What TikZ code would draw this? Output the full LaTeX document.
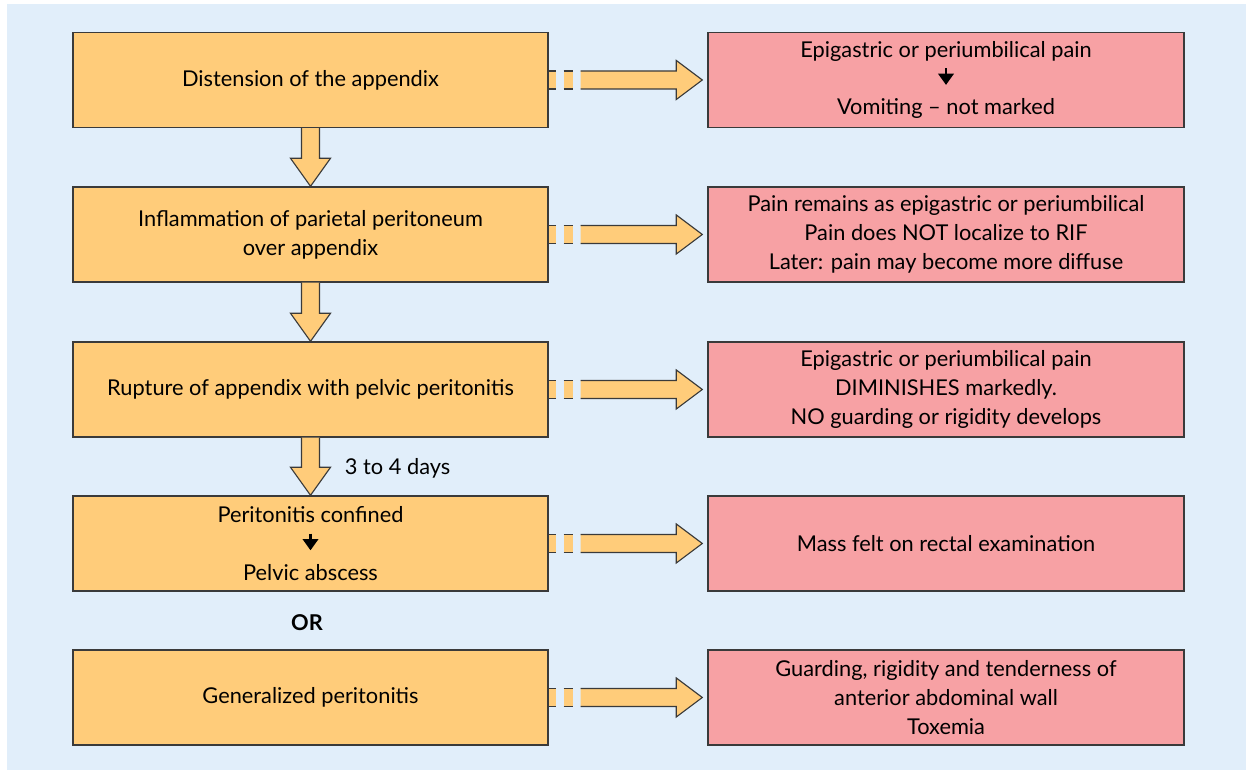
\documentclass[tikz,border=0pt]{standalone}
\usepackage{fontspec}
\setmainfont{Lato}
\usetikzlibrary{arrows.meta,calc,shadows}

\definecolor{bgblue}{RGB}{225,238,250}
\definecolor{boxorange}{RGB}{255,204,122}
\definecolor{boxpink}{RGB}{247,161,164}
\definecolor{edgegray}{RGB}{58,58,58}

\tikzset{
  stage/.style={draw=edgegray, line width=1pt, fill=boxorange,
    minimum width=11.875cm, minimum height=2.375cm, align=center,
    drop shadow={shadow xshift=0.7pt, shadow yshift=-0.7pt, fill=edgegray, opacity=0.5}},
  sign/.style={stage, fill=boxpink, minimum width=11.9cm},
  fatarrow/.style={draw=edgegray, line width=0.8pt, fill=boxorange, line join=miter},
}

% small black arrow between two lines of text
\newcommand{\smalldown}{\tikz\draw[line width=1.6pt,-{Triangle[length=8pt,width=11pt]}] (0,0) -- (0,-0.42);}

% thick arrow from the bottom of one box to the top of the next
\newcommand{\downfat}[2]{%
  \path (#1.south) coordinate (top) (#2.north) coordinate (tip);
  \filldraw[fatarrow] ($(top)+(-0.225,0)$) -- ($(tip)+(-0.225,0.7)$) -- ($(tip)+(-0.5,0.7)$)
    -- (tip) -- ($(tip)+(0.5,0.7)$) -- ($(tip)+(0.225,0.7)$) -- ($(top)+(0.225,0)$);
}

% thick arrow to the right, broken near its start
\newcommand{\rightfat}[2]{%
  \path (#1.east) coordinate (root) ($(#2.west)+(-0.125,0)$) coordinate (tip);
  \foreach \a/\b in {0/0.175, 0.375/0.6} {
    \fill[boxorange] ($(root)+(\a,-0.225)$) rectangle ($(root)+(\b,0.225)$);
    \draw[edgegray, line width=0.8pt] ($(root)+(\a,0.225)$) -- ($(root)+(\b,0.225)$)
      ($(root)+(\a,-0.225)$) -- ($(root)+(\b,-0.225)$);
  }
  \filldraw[fatarrow] ($(root)+(0.8,0.225)$) -- ($(tip)+(-0.65,0.225)$) -- ($(tip)+(-0.65,0.4875)$)
    -- (tip) -- ($(tip)+(-0.65,-0.4875)$) -- ($(tip)+(-0.65,-0.225)$) -- ($(root)+(0.8,-0.225)$);
}

\begin{document}
\begin{tikzpicture}[every node/.style={font=\fontsize{15.5}{20.6}\selectfont}]

  % background
  \useasboundingbox (0,0) rectangle (31.275,19.325);
  \fill[bgblue] (0.175,0.075) rectangle (31.15,19.225);

  % stages
  \node[stage] (appx) at (7.7625,17.325) {Distension of the appendix};
  \node[stage] (pariet) at (7.7625,13.4625) {Inflammation of parietal peritoneum\\over appendix};
  \node[stage] (rupture) at (7.7625,9.5875) {Rupture of appendix with pelvic peritonitis};
  \node[stage] (confined) at (7.7625,5.7375) {Peritonitis confined\\\smalldown\\Pelvic abscess};
  \node[stage] (general) at (7.7625,1.8875) {Generalized peritonitis};

  % signs
  \node[sign] (epi) at (23.65,17.325) {Epigastric or periumbilical pain\\\smalldown\\Vomiting -- not marked};
  \node[sign] (remains) at (23.65,13.4625) {Pain remains as epigastric or periumbilical\\Pain does NOT localize to RIF\\Later: pain may become more diffuse};
  \node[sign] (diminish) at (23.65,9.5875) {Epigastric or periumbilical pain\\DIMINISHES markedly.\\NO guarding or rigidity develops};
  \node[sign] (mass) at (23.65,5.7375) {Mass felt on rectal examination};
  \node[sign] (guarding) at (23.65,1.8875) {Guarding, rigidity and tenderness of\\anterior abdominal wall\\Toxemia};

  % labels
  \node[anchor=west] (days) at (8.5,7.625) {3 to 4 days};
  \node (or) at (7.675,3.75) {\textbf{OR}};

  % arrows down
  \downfat{appx}{pariet}
  \downfat{pariet}{rupture}
  \downfat{rupture}{confined}

  % arrows across
  \rightfat{appx}{epi}
  \rightfat{pariet}{remains}
  \rightfat{rupture}{diminish}
  \rightfat{confined}{mass}
  \rightfat{general}{guarding}

\end{tikzpicture}
\end{document}
